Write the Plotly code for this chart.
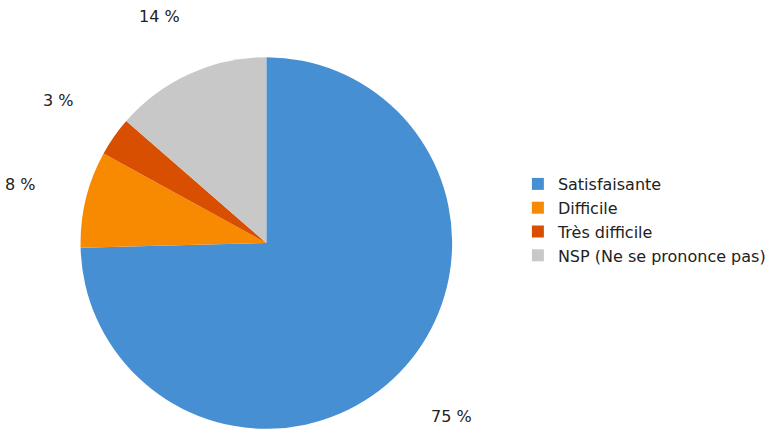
import math
import plotly.graph_objects as go

labels = ["Satisfaisante", "Difficile", "Très difficile", "NSP (Ne se prononce pas)"]
values = [74.6, 8.4, 3.4, 13.6]
colors = ["#478FD3", "#F88A02", "#D94F02", "#C8C8C8"]

W, H = 771, 440                 # figure slightly taller than the 430px window (bottom clipped)
cx, cy, R = 269.5, 243, 188     # pie center / radius in pixels (from top)
dom_x = [(cx - R) / W, (cx + R) / W]
dom_y = [(H - cy - R) / H, (H - cy + R) / H]

fig = go.Figure(go.Pie(
    labels=labels, values=values, sort=False, direction="clockwise", rotation=0,
    marker=dict(colors=colors, line=dict(width=0)),
    textinfo="none", hoverinfo="label+percent",
    domain=dict(x=dom_x, y=dom_y),
))

# percentage labels placed outside each slice
total = sum(values)
cum = 0
annotations = []
for v in values:
    mid = (cum + v / 2) / total * 2 * math.pi
    cum += v
    txt = f"{round(v)} %"
    rr = 240
    hw, hh = 5.5 * len(txt), 9
    px = cx + (rr + hw) * math.sin(mid)
    py = cy - (rr + hh) * math.cos(mid)
    annotations.append(dict(
        x=px / W, y=1 - py / H, xref="paper", yref="paper",
        text=txt, showarrow=False,
        font=dict(family="DejaVu Sans", size=16, color="#222222"),
        xanchor="center", yanchor="middle",
    ))

fig.update_layout(
    width=W, height=H,
    margin=dict(l=0, r=0, t=0, b=0),
    paper_bgcolor="white", plot_bgcolor="white",
    font=dict(family="DejaVu Sans", size=16, color="#222222"),
    annotations=annotations,
    legend=dict(x=524 / W, y=1 - 167 / H, xanchor="left", yanchor="top",
                font=dict(size=16), tracegroupgap=0),
    showlegend=True,
)

fig.write_html("out.html", config={"displayModeBar": False},
               post_script="document.body.style.margin='0';document.body.style.overflow='hidden';")
